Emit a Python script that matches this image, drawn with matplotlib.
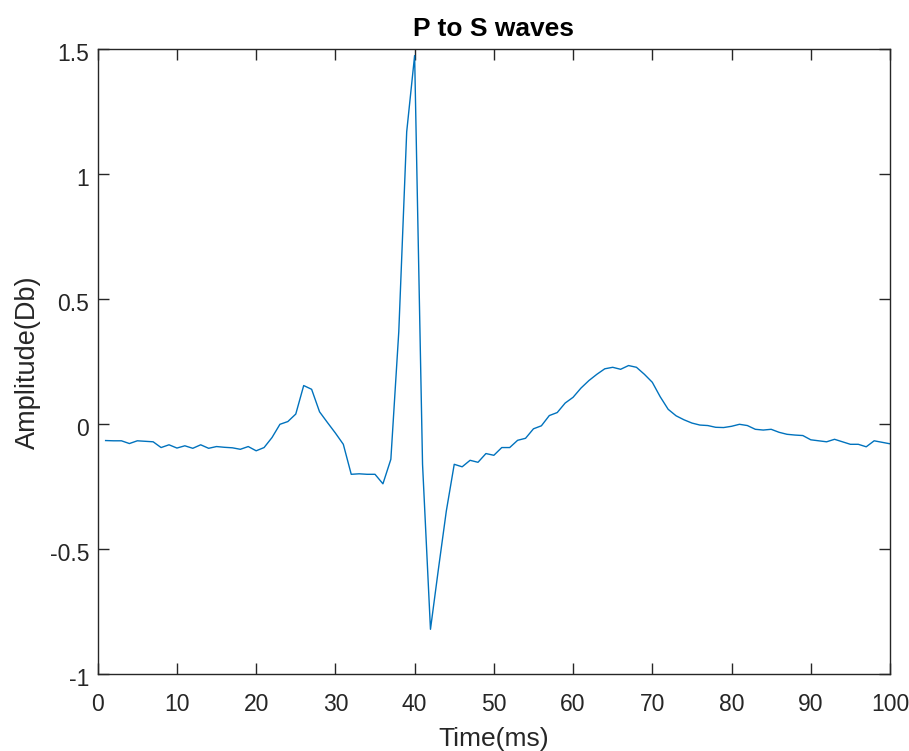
import matplotlib.pyplot as plt
import matplotlib.transforms as mtransforms
import numpy as np

plt.rcParams['font.family'] = ['Liberation Sans', 'DejaVu Sans']

# samples, one per ms
time_ms = np.arange(1, 101)
amplitude = [
    -0.065, -0.066, -0.066, -0.077, -0.066, -0.068, -0.070, -0.093, -0.082, -0.095,
    -0.086, -0.096, -0.082, -0.096, -0.089, -0.092, -0.094, -0.100, -0.089, -0.106,
    -0.093, -0.053, 0.000, 0.011, 0.041, 0.155, 0.140, 0.050, 0.007, -0.035,
    -0.080, -0.200, -0.198, -0.200, -0.200, -0.238, -0.140, 0.370, 1.170, 1.475,
    -0.160, -0.820, -0.580, -0.347, -0.160, -0.170, -0.144, -0.152, -0.117, -0.124,
    -0.093, -0.093, -0.064, -0.056, -0.018, -0.006, 0.035, 0.047, 0.085, 0.108,
    0.145, 0.175, 0.200, 0.222, 0.228, 0.220, 0.235, 0.228, 0.200, 0.168,
    0.110, 0.060, 0.034, 0.018, 0.005, -0.003, -0.005, -0.012, -0.013, -0.008,
    0.000, -0.005, -0.020, -0.023, -0.020, -0.032, -0.040, -0.043, -0.045, -0.062,
    -0.066, -0.070, -0.060, -0.070, -0.080, -0.080, -0.090, -0.066, -0.072, -0.078,
]
x_ticks = [0, 10, 20, 30, 40, 50, 60, 70, 80, 90, 100]
y_ticks = [-1, -0.5, 0, 0.5, 1, 1.5]
y_labels = ['-1', '-0.5', '0', '0.5', '1', '1.5']

fig = plt.figure(figsize=(9.09, 7.51), dpi=100)
ax = fig.add_axes([97.7 / 909, 1 - 674.3 / 751, (890 - 97.7) / 909, (674.3 - 49.3) / 751])

ax.plot(time_ms, amplitude, color='#0072BD', linewidth=1.0)

ax.set_xlim(0, 100)
ax.set_ylim(-1, 1.5)
ax.set_xticks(x_ticks)
ax.set_yticks(y_ticks)
ax.set_yticklabels(y_labels)

grey = '#262626'
for s in ax.spines.values():
    s.set_color(grey)
    s.set_linewidth(1.0)
ax.tick_params(direction='in', top=True, right=True, length=8, width=1.0,
               colors=grey, labelsize=16.5)
ax.tick_params(axis='x', pad=13.5)
ax.tick_params(axis='y', pad=6)

# y tick labels sit a little below their ticks, as in the original
shift = mtransforms.ScaledTranslation(0, -3 / 100, fig.dpi_scale_trans)
for lbl in ax.get_yticklabels():
    lbl.set_transform(lbl.get_transform() + shift)

ax.set_title('P to S waves', fontsize=19, fontweight='bold', color='black', pad=9.4)
ax.set_xlabel('Time(ms)', fontsize=19, color=grey, labelpad=8)
ax.set_ylabel('Amplitude(Db)', fontsize=19.5, color=grey, labelpad=6.5)

fig.savefig('out.png', dpi=100, facecolor='white')
